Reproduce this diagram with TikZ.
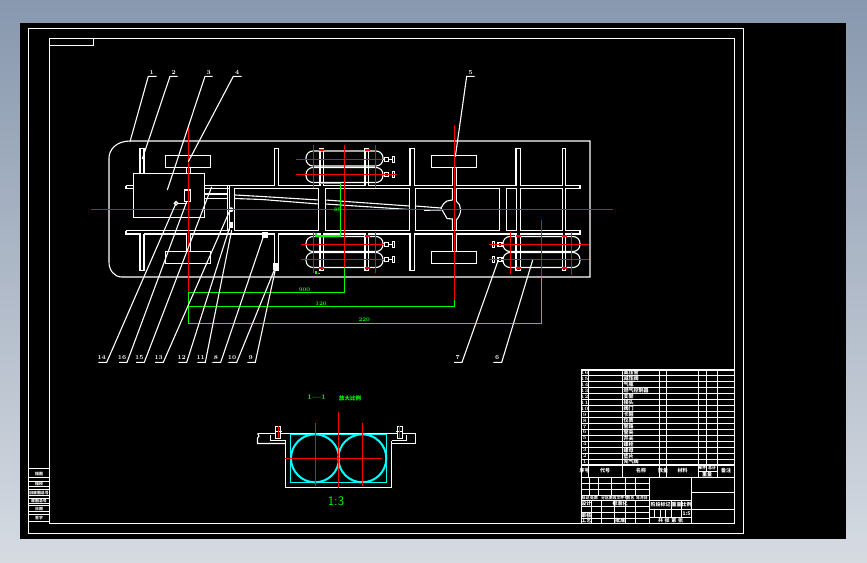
\documentclass[tikz,border=0pt]{standalone}
\usepackage{xcolor}
\usepackage{fontspec}
\newfontfamily\cjk{Noto Sans CJK SC}
\definecolor{cadred}{RGB}{255,0,0}
\definecolor{cadgreen}{RGB}{0,255,0}
\definecolor{cadcyan}{RGB}{0,255,255}
\definecolor{desktop top}{RGB}{136,152,174}
\definecolor{desktop bottom}{RGB}{214,219,226}
\tikzset{
  wire/.style={draw=white, line width=1.1pt},
  redline/.style={draw=cadred, line width=1.1pt},
  greenline/.style={draw=cadgreen, line width=1.1pt},
  cyanline/.style={draw=cadcyan, line width=1.2pt},
  tankline/.style={draw=cadcyan, line width=2pt},
  partno/.style={text=white, inner sep=0pt, font=\fontsize{6}{6}\selectfont\bfseries},
  dimtext/.style={text=cadgreen, inner sep=0pt, font=\fontsize{5.5}{6}\selectfont\bfseries},
  tabletext/.style={text=white, inner sep=0pt, font=\cjk\bfseries\fontsize{5}{5}\selectfont},
  smalltext/.style={text=white, inner sep=0pt, font=\cjk\bfseries\fontsize{3.9}{4}\selectfont},
}
\begin{document}
\begin{tikzpicture}[x=1pt,y=-1pt]
\useasboundingbox (0,0) rectangle (867,562);
\fill[top color=desktop top, bottom color=desktop bottom] (0,0) rectangle (867,562);
\fill[black] (20,23) rectangle (846,539);
% frames
\draw[wire] (28.5,28.5) rectangle (743.5,533.5);
\draw[wire] (49.5,38.5) rectangle (734.5,523.5);
\draw[wire] (49.5,45.5) -- (93.5,45.5) -- (93.5,38.5);
% chassis outline
\draw[wire] (130,141) -- (590,141) -- (590,277) -- (122,277) .. controls (114,277) and (109,270) .. (109,262)
  -- (109,158) .. controls (109,150) and (116,141) .. (130,141);
% rails and panels
\draw[wire] (126,185.7) -- (133,185.7) (204.7,185.7) -- (580,185.7) -- (580,188.3) -- (565.3,188.3);
\draw[wire] (126,185.7) -- (126,188.3) -- (133,188.3);
\draw[wire] (126,230.7) -- (227,230.7) (126,230.7) -- (126,234) -- (580,234) -- (580,230.7) -- (565.3,230.7);
\draw[wire] (204.7,188.3) -- (229.5,188.3) (204.7,194) -- (227.3,194) (204.7,198.3) -- (227.3,198.3);
\draw[wire] (227.3,186) -- (227.3,230.7) (229.5,186) -- (229.5,230.7);
\foreach \xa/\xb in {234.3/318.7,325.3/409.3,415.3/499.3,506.3/516.3,520.3/562.3}
  \draw[wire] (\xa,188.3) rectangle (\xb,230.7);
\draw[wire] (565.3,188.3) -- (565.3,230.7);
% cross members
\foreach \xa/\xb in {140/144,274.3/278.7,320/323.3,365/368.3,410/414.7,516/520.3,562.3/565.3} {
  \fill[black] (\xa+0.5,149) rectangle (\xb-0.5,187);
  \draw[wire] (\xa,186) -- (\xa,148.5) -- (\xb,148.5) -- (\xb,186);
}
\foreach \xa/\xb in {140/144,274.3/278.7,320/323.3,365/368.3,410/414.7,516/520.3,562.3/565.3} {
  \fill[black] (\xa+0.5,233) rectangle (\xb-0.5,270);
  \draw[wire] (\xa,234) -- (\xa,270.7) -- (\xb,270.7) -- (\xb,234);
}
\foreach \xa/\xb in {186.3/190.3,452.3/456.3} {
  \fill[black] (\xa+0.5,167) rectangle (\xb-0.5,189);
  \draw[wire] (\xa,167.7) -- (\xa,186) (\xb,167.7) -- (\xb,186);
  \fill[black] (\xa+0.5,233) rectangle (\xb-0.5,251);
  \draw[wire] (\xa,234) -- (\xa,251.3) (\xb,234) -- (\xb,251.3);
}
% axle boxes and engine
\foreach \xa/\ya in {165.3/155.3,431.3/155.3,165.3/251.3,431.3/251.3}
  \draw[wire] (\xa,\ya) rectangle (\xa+45.4,\ya+12);
\draw[wire,fill=black] (133.3,173.3) rectangle (204.7,217.7);
\draw[wire] (184.3,190) rectangle (190.3,201.7);
\draw[wire] (178,203.3) -- (187,203.3);
\draw[wire,fill=black] (176,203.3) circle (1.8);
% drive shaft
\draw[wire] (235,195) -- (262,196.5) -- (318.7,200) (325.3,200) -- (409.3,206) (415.3,206) -- (441,208);
\draw[wire] (235,198.5) -- (262,199.5) -- (318.7,204) (325.3,204) -- (409.3,209.5) (424,210.3) -- (441,210);
\fill[black] (452.8,189) rectangle (455.8,200);
\draw[wire] (452.3,188.3) -- (452.3,200) -- (447,201) .. controls (444,203) .. (441,208) .. controls (444,214) .. (447,218.5)
  -- (452.3,219) -- (452.3,230.7);
\draw[wire] (456.3,188.3) -- (456.3,201) .. controls (462,205) and (462,214) .. (456.3,220) -- (456.3,230.7);
% tanks
\foreach \xa/\ya in {306/151,306/167.5,306/236.5,306/252.5,503/236.5,503/252.5}
  \draw[wire,rounded corners=7pt] (\xa,\ya) rectangle (\xa+77,\ya+15);
% valves
\foreach \ya in {159.3,174.3,244.3,259.3} {
  \draw[wire] (388.7,\ya) -- (392.3,\ya) (383,\ya) -- (384.3,\ya);
  \draw[wire] (384.3,\ya-2) rectangle (388.7,\ya+2);
  \draw[wire] (392.3,\ya-3) rectangle (394.3,\ya+3);
}
\foreach \ya in {244.3,259.3} {
  \draw[wire] (494.7,\ya) -- (498,\ya) (502,\ya) -- (503,\ya);
  \draw[wire] (498,\ya-2) rectangle (502,\ya+2);
  \draw[wire] (492.7,\ya-3) rectangle (494.7,\ya+3);
}
% small fittings
\fill[white] (231,209.7) circle (2.5);
\fill[white] (229.5,222) rectangle (232.5,228);
\fill[white] (262,232) rectangle (268,238);
\fill[white] (273,263) rectangle (279,270);
% centre lines
\draw[redline] (91,209.3) -- (613,209.3);
\draw[redline] (188.3,127) -- (188.3,292.3);
\draw[redline] (454.3,125) -- (454.3,300);
\draw[redline] (296,159.3) -- (383,159.3) (296,174.3) -- (397,174.3);
\draw[redline] (301,244.3) -- (384,244.3) (301,259.3) -- (384,259.3);
\draw[redline] (489,244.3) -- (589,244.3) (489,259.3) -- (589,259.3);
\draw[redline] (313.3,145) -- (313.3,188) (375.3,145) -- (375.3,188);
\draw[redline] (344.3,145) -- (344.3,267);
\draw[redline] (313.3,232) -- (313.3,273) (375.3,232) -- (375.3,273);
\draw[redline] (510.3,232) -- (510.3,273.5) (571.3,232) -- (571.3,274.5);
\draw[redline] (541.3,220) -- (541.3,276);
\foreach \xa/\ya in {319/150,319/236,319/268,365/150,365/236,365/268,516/236,516/268,562/236,562/268}
  \draw[redline] (\xa,\ya) -- (\xa+5,\ya);
% dimensions
\draw[greenline] (344.3,267) -- (344.3,293) (188.3,292.3) -- (344.3,292.3);
\draw[greenline] (188.3,292.3) -- (188.3,323.3) -- (541.3,323.3) -- (541.3,276);
\draw[greenline] (188.3,306.3) -- (454.3,306.3) -- (454.3,300);
\draw[greenline] (320,183.3) -- (340.7,183.3) -- (340.7,236) -- (316,236) -- (316,233);
\draw[greenline] (316,271) -- (316,274) (320,273.5) -- (318,273.5);
\node[dimtext] (dimtank) at (337.5,209.7) {35};
\node[dimtext] (dimfront) at (304.5,289.5) {900};
\node[dimtext] (dimrear) at (321,303.5) {120};
\node[dimtext] (dimtotal) at (364.3,320) {220};
% leaders, top row
\foreach \n/\tipx/\tipy/\kx/\ex/\lx in {1/130/141.7/148.3/156.7/151.7,2/142.3/159/170/177.7/173.7,3/167.3/190/205/212.7/208.7,4/188.3/161.7/233.3/241.7/237.3,5/455.3/156.7/466.7/474.7/470.7} {
  \coordinate (tip\n) at (\tipx,\tipy);
  \coordinate (knee\n) at (\kx,76.3);
  \coordinate (end\n) at (\ex,76.3);
  \node[partno] (part\n) at (\lx,72.7) {\n};
  \draw[wire] (tip\n) -- (knee\n) -- (end\n);
}
% leaders, bottom row
\foreach \n/\tipx/\tipy/\kx/\ex/\lx in {14/176/203.3/106.7/98.3/101.7,16/186.7/201.7/127/119/122,15/211.7/186.7/144.3/136/139.3,13/229.3/211.7/163.3/155/158.7,12/231/223/186.7/178.3/181.7,11/231.7/230/205.3/197.3/200.7,8/263.3/236.7/220.7/212.3/216,10/275/268.3/236.7/228.3/232,9/276.7/263.3/255.3/247.3/250.7,7/497.7/261.7/462/454/457.7,6/532.7/260/501.7/493.3/497.3} {
  \coordinate (tip\n) at (\tipx,\tipy);
  \coordinate (knee\n) at (\kx,362.3);
  \coordinate (end\n) at (\ex,362.3);
  \node[partno] (part\n) at (\lx,357.3) {\n};
  \draw[wire] (tip\n) -- (knee\n) -- (end\n);
}
% section A
\node[text=cadgreen, inner sep=0pt, font=\fontsize{7}{7}\selectfont\bfseries] (secname) at (316.5,397.5) {1---1};
\node[text=cadgreen, inner sep=0pt, font=\cjk\bfseries\fontsize{5.5}{6}\selectfont] (sectitle) at (350,398.2) {放大比例};
\draw[wire] (285.5,441) -- (285.5,487.5) -- (391.5,487.5) -- (391.5,441);
\draw[wire] (257.5,433.5) -- (415.5,433.5) -- (415.5,443.5) -- (391.5,443.5);
\draw[wire] (257.5,433.5) -- (259,436) -- (257.5,438) -- (257.5,443.5) -- (285.5,443.5);
\draw[wire] (270.5,435) -- (270.5,440.5) -- (285.5,440.5) (406.5,435) -- (406.5,440.5) -- (391.5,440.5);
\draw[cyanline] (290.5,434.5) rectangle (386.5,482.5);
\draw[tankline] (315,458.3) circle (24) (362.3,458.3) circle (24);
\draw[wire,fill=black] (275.5,426.5) rectangle (280.5,438.5);
\draw[wire,fill=black] (397.5,426.5) rectangle (402.5,438.5);
\draw[wire] (396,431.5) -- (403,431.5) (274.5,431.5) -- (281.5,431.5);
\draw[redline] (278.5,426) -- (278.5,438) (399.5,426) -- (399.5,438);
\draw[redline] (315.5,423) -- (315.5,485.7) (362.5,423) -- (362.5,485.7);
\draw[redline] (338.5,412.3) -- (338.5,488.3);
\draw[redline] (285,458.5) -- (381.7,458.5);
\node[text=cadgreen, inner sep=0pt, font=\sffamily\fontsize{13}{13}\selectfont] (secscale) at (336,501) {1:3};
% parts list
\draw[wire] (581,370) -- (734,370);
\foreach \n [evaluate=\n as \ya using 370+(16-\n)*5.94+2.97] in {1,...,16} {
  \draw[wire] (581,\ya+2.97) -- (734,\ya+2.97);
  \node[partno,font=\fontsize{5}{5}\selectfont\bfseries] (row\n) at (584.7,\ya) {\n};
}
\foreach \xa in {581.5,588.5,622.5,659.5,666.5,698.5,717.5}
  \draw[wire] (\xa,370) -- (\xa,477.5);
\draw[wire] (706.5,370) -- (706.5,471.5);
\draw[wire] (698.5,471.5) -- (717.5,471.5);
\draw[wire] (581.5,477.5) -- (734,477.5);
\foreach \n/\txt/\ya in {16/高压管/0,15/减压阀/1,14/气瓶/2,13/燃气控制器/3,12/支架/4,11/接头/5,10/阀门/6,9/卡箍/7,8/仪表/8,7/管路/9,6/管夹/10,5/开关/11,4/螺栓/12,3/螺母/13,2/垫片/14,1/充气阀/15}
  \node[tabletext,anchor=west] (name\n) at (623.5,372.97+\ya*5.94) {\txt};
\foreach \nm/\txt/\xa in {hnum/序号/584.7,hcode/代号/605,hname/名称/641,hqty/数量/663,hmat/材料/682.5,hnote/备注/726}
  \node[tabletext] (\nm) at (\xa,471) {\txt};
\node[smalltext] (hsingle) at (702.3,468) {单件};
\node[smalltext] (htotal) at (712,468) {总计};
\node[tabletext] (hweight) at (707,474.7) {重量};
% title block
\foreach \ya in {483.5,489.5,495.5,500.5,506.5,512.5,518.5}
  \draw[wire] (581.5,\ya) -- (649.5,\ya);
\draw[wire] (581.5,477.5) -- (581.5,523.5);
\foreach \xa in {589.5,598.5,611.5,625.5,635.5}
  \draw[wire] (\xa,477.5) -- (\xa,495.5);
\foreach \xa in {591.5,601.5,614.5,625.5,635.5}
  \draw[wire] (\xa,500.5) -- (\xa,523.5);
\foreach \nm/\txt/\xa in {ta/标记/585.5,tb/处数/594,tc/分区/605,td/更改文件号/618.5,te/签名/630.5,tf/年月日/642}
  \node[smalltext] (\nm) at (\xa,498) {\txt};
\node[tabletext] (tdesign) at (586.3,503.7) {设计};
\node[tabletext] (tstd) at (620,503.7) {标准化};
\node[tabletext] (tcheck) at (586.3,515.3) {审核};
\node[tabletext] (tapprove) at (586.3,521) {工艺};
\node[tabletext] (tdate) at (620,521) {批准};
\draw[wire] (649.5,477.5) -- (649.5,523.5) (691.5,477.5) -- (691.5,523.5);
\draw[wire] (649.5,500.5) -- (691.5,500.5) (649.5,509.5) -- (691.5,509.5) (649.5,517.5) -- (691.5,517.5);
\draw[wire] (691.5,492.5) -- (734,492.5) (691.5,509.5) -- (734,509.5);
\draw[wire] (671.5,500.5) -- (671.5,517.5) (681.5,500.5) -- (681.5,517.5);
\foreach \xa in {654.5,660.5,665.5}
  \draw[wire] (\xa,509.5) -- (\xa,517.5);
\node[tabletext] (tstage) at (660.5,505) {阶段标记};
\node[tabletext] (tweight) at (676.5,505) {重量};
\node[tabletext] (tratio) at (686.5,505) {比例};
\node[tabletext] (tscale) at (686.5,513.5) {1:5};
\node[tabletext] (tsheet) at (670.5,520.7) {共\,\,张\,\,第\,\,张};
% side strip
\foreach \ya in {468.5,477.5,481.5,486.5,489.5,495.5,498.5,503.5,505.5,511.5,514.5,521.5}
  \draw[wire] (29,\ya) -- (49,\ya);
\foreach \nm/\txt/\ya in {sa/描图/473.7,sb/描校/484,sc/旧底图总号/492.7,sd/底图总号/501,se/日期/508.7,sf/签字/518.3}
  \node[smalltext] (\nm) at (39,\ya) {\txt};
\end{tikzpicture}
\end{document}
